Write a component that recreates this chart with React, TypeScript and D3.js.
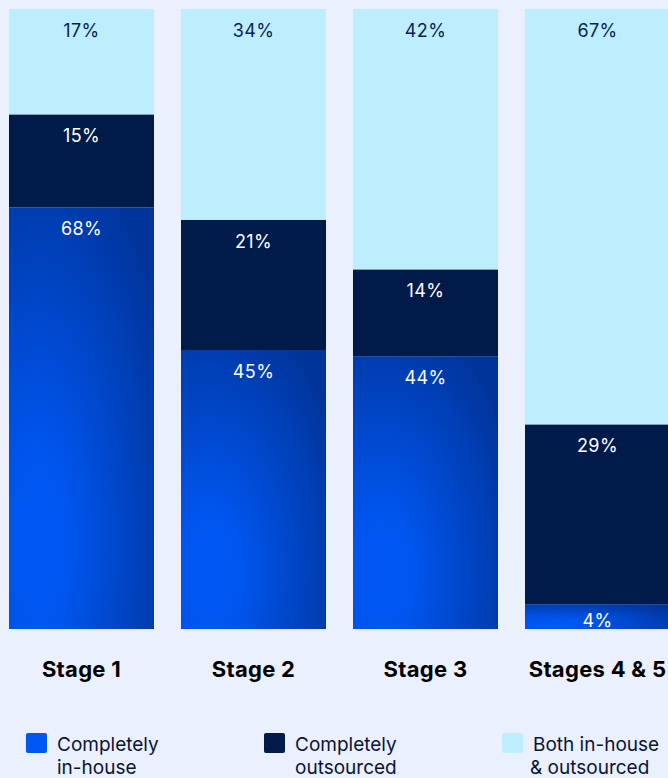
import React from "react";
import * as d3 from "d3";

const stages = ["Stage 1", "Stage 2", "Stage 3", "Stages 4 & 5"];
const inHouse = [68, 45, 44, 4];
const outsourced = [15, 21, 14, 29];
const both = [17, 34, 42, 67];

const seriesKeys = ["inHouse", "outsourced", "both"];
const legendLabels = [
  ["Completely", "in-house"],
  ["Completely", "outsourced"],
  ["Both in-house", "& outsourced"],
];

const W = 668;
const H = 778;
const FONT = "Inter, 'Noto Sans', sans-serif";

export default function App() {
  const rows = stages.map((s, i) => ({
    stage: s,
    inHouse: inHouse[i],
    outsourced: outsourced[i],
    both: both[i],
  }));
  const stack = d3.stack<any>().keys(seriesKeys)(rows);

  const x = d3.scaleBand().domain(stages).range([9, 670]).paddingInner(0.157).paddingOuter(0);
  const y = d3.scaleLinear().domain([0, 100]).range([629, 9]);

  const fills: Record<string, string> = {
    inHouse: "url(#blueGrad)",
    outsourced: "#001A4A",
    both: "#BDEEFF",
  };
  const labelColor: Record<string, string> = {
    inHouse: "#FFFFFF",
    outsourced: "#FFFFFF",
    both: "#0A1F4F",
  };
  const legendColors = ["#0057F2", "#001A4A", "#BDEEFF"];
  const legendX = [26, 264, 502];

  return (
    <svg
      width={W}
      height={H}
      style={{ position: "absolute", left: 0, top: 0, display: "block" }}
      fontFamily={FONT}
    >
      <defs>
        <radialGradient id="blueGrad" cx="0.2" cy="0.8" r="1" fx="0.2" fy="0.8">
          <stop offset="0" stopColor="#0058F5" />
          <stop offset="0.22" stopColor="#0055EE" />
          <stop offset="1" stopColor="#00349A" />
        </radialGradient>
      </defs>
      <rect width={W} height={H} fill="#EAF0FD" />
      {stack.map((layer) =>
        layer.map((d, i) => {
          const bx = x(stages[i]) as number;
          const y0 = y(d[1]);
          const y1 = y(d[0]);
          const val = d[1] - d[0];
          const key = layer.key;
          const small = y1 - y0 < 30;
          return (
            <g key={key + i}>
              <rect x={bx} y={y0} width={x.bandwidth()} height={y1 - y0} fill={fills[key]} />
              <text
                x={bx + x.bandwidth() / 2}
                y={small ? y1 - 2 : y0 + 28}
                textAnchor="middle"
                fontSize={18}
                letterSpacing={0.4}
                fill={labelColor[key]}
              >
                {`${val}%`}
              </text>
            </g>
          );
        })
      )}
      {stages.map((s) => (
        <text
          key={s}
          x={(x(s) as number) + x.bandwidth() / 2}
          y={677}
          textAnchor="middle"
          fontSize={22}
          fontWeight={700}
          letterSpacing={0.3}
          fill="#000000"
        >
          {s}
        </text>
      ))}
      {legendLabels.map((lines, i) => (
        <g key={i}>
          <rect x={legendX[i]} y={733} width={21} height={20} rx={2} fill={legendColors[i]} />
          {lines.map((t, j) => (
            <text
              key={j}
              x={legendX[i] + 31 - (j === 1 && i === 2 ? 3 : 0)}
              y={751 + j * 23}
              fontSize={19}
              fill="#0A1433"
            >
              {t}
            </text>
          ))}
        </g>
      ))}
    </svg>
  );
}
